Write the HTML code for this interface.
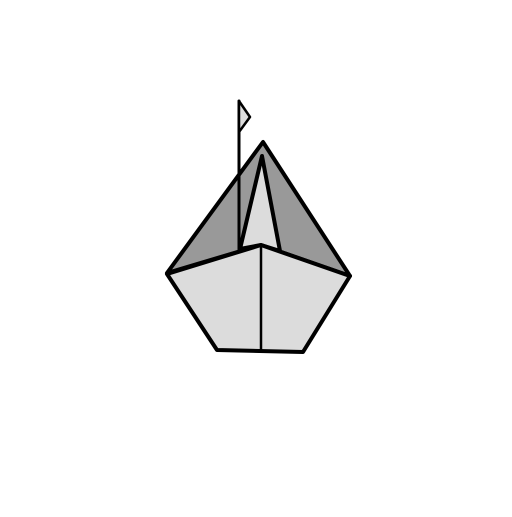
<!DOCTYPE html>
<html><head><style>body{margin:0;background:#fff}</style></head><body>
<svg width="512" height="512" viewBox="0 0 512 512" stroke="#000" stroke-linejoin="round" stroke-linecap="round">
<polygon points="263,142 167,273 261,245 350,276" fill="#999" stroke-width="4"/>
<polygon points="262,156 240,249 261,245 280,251" fill="#dcdcdc" stroke-width="4"/>
<line x1="239" y1="101" x2="239" y2="251" stroke-width="3"/>
<polygon points="239,101 250,117 239,132" fill="#dcdcdc" stroke-width="2.5"/>
<polygon points="167,274 261,245 350,276 303,352 217,350" fill="#dcdcdc" stroke-width="4"/>
<line x1="261" y1="245" x2="261" y2="351" stroke-width="2.5"/>
</svg>
</body></html>
